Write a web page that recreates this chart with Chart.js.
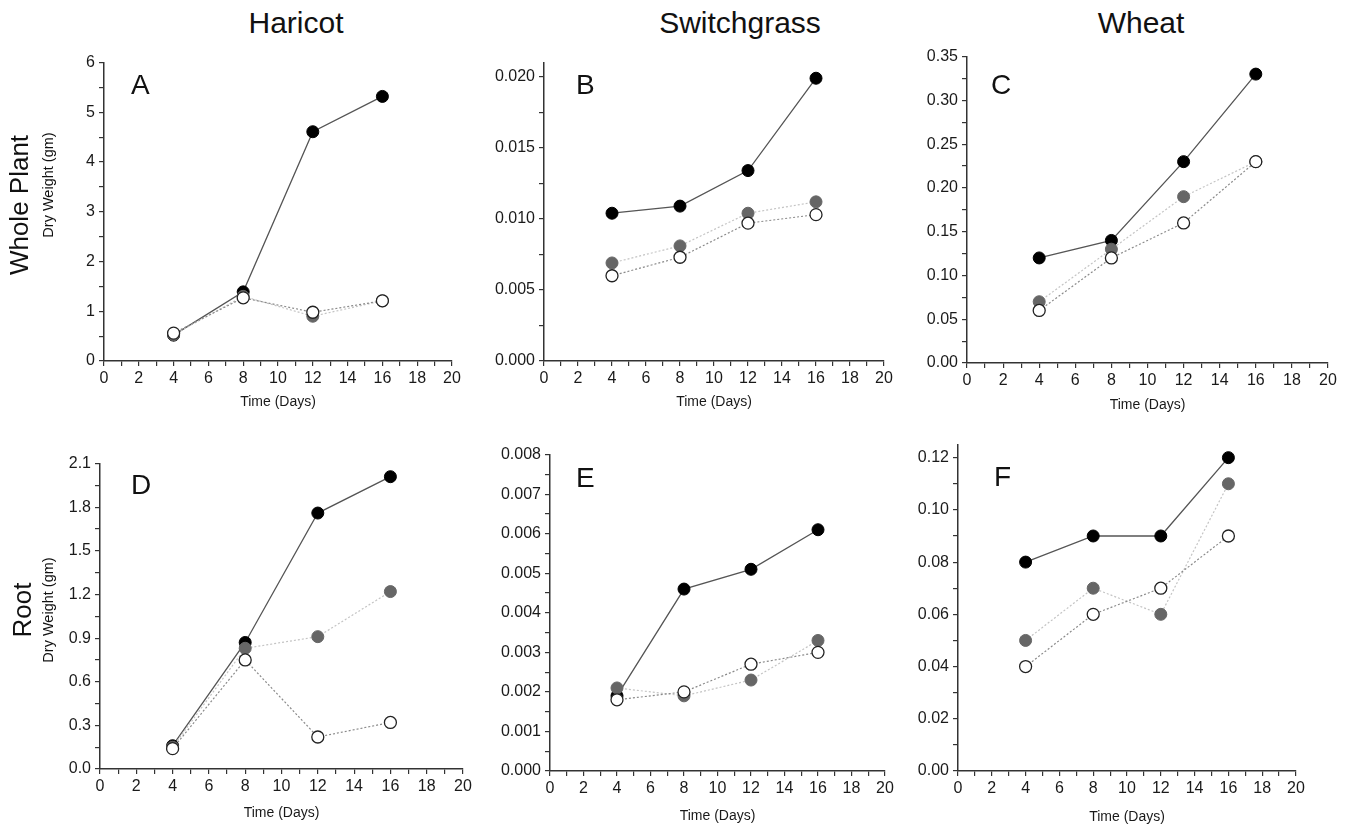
<!DOCTYPE html>
<html>
<head>
<meta charset="utf-8">
<script src="https://cdn.jsdelivr.net/npm/chart.js@4"></script>
<style>
  body { margin: 0; background: #fff; width: 1350px; height: 826px; position: relative; overflow: hidden;
         font-family: 'Liberation Sans', Arial, Helvetica, sans-serif; color: #111; }
  canvas { position: absolute; }
  .txt { position: absolute; white-space: nowrap; line-height: 1; }
  .rot { transform: translate(-50%, -50%) rotate(-90deg); }
</style>
</head>
<body>

<canvas id="pA"></canvas>
<canvas id="pB"></canvas>
<canvas id="pC"></canvas>
<canvas id="pD"></canvas>
<canvas id="pE"></canvas>
<canvas id="pF"></canvas>

<div class="txt" style="left:246px;top:8px;width:100px;text-align:center;font-size:30px;">Haricot</div>
<div class="txt" style="left:640px;top:8px;width:200px;text-align:center;font-size:30px;">Switchgrass</div>
<div class="txt" style="left:1081px;top:8px;width:120px;text-align:center;font-size:30px;">Wheat</div>

<div class="txt rot" style="left:19px;top:205px;font-size:26px;">Whole Plant</div>
<div class="txt rot" style="left:48px;top:185px;font-size:14.5px;">Dry Weight (gm)</div>
<div class="txt rot" style="left:22px;top:610px;font-size:26px;">Root</div>
<div class="txt rot" style="left:48px;top:610px;font-size:14.5px;">Dry Weight (gm)</div>

<div class="txt" style="left:131px;top:71px;font-size:28px;">A</div>
<div class="txt" style="left:576px;top:71px;font-size:28px;">B</div>
<div class="txt" style="left:991px;top:71px;font-size:28px;">C</div>
<div class="txt" style="left:131px;top:471px;font-size:28px;">D</div>
<div class="txt" style="left:576px;top:464px;font-size:28px;">E</div>
<div class="txt" style="left:994px;top:463px;font-size:28px;">F</div>

<script>
// sampling days
const days = [4, 8, 12, 16];

// whole plant dry weight (gm): filled black, filled grey, open circles
const haricotWholeBlack = [0.52, 1.39, 4.61, 5.32];
const haricotWholeGrey  = [0.53, 1.30, 0.90, 1.21];
const haricotWholeOpen  = [0.56, 1.27, 0.98, 1.21];

const switchWholeBlack = [0.0104, 0.0109, 0.0134, 0.0199];
const switchWholeGrey  = [0.0069, 0.0081, 0.0104, 0.0112];
const switchWholeOpen  = [0.0060, 0.0073, 0.0097, 0.0103];

const wheatWholeBlack = [0.12, 0.14, 0.23, 0.33];
const wheatWholeGrey  = [0.07, 0.13, 0.19, 0.23];
const wheatWholeOpen  = [0.06, 0.12, 0.16, 0.23];

// root dry weight (gm)
const haricotRootBlack = [0.16, 0.87, 1.76, 2.01];
const haricotRootGrey  = [0.15, 0.83, 0.91, 1.22];
const haricotRootOpen  = [0.14, 0.75, 0.22, 0.32];

const switchRootBlack = [0.0019, 0.0046, 0.0051, 0.0061];
const switchRootGrey  = [0.0021, 0.0019, 0.0023, 0.0033];
const switchRootOpen  = [0.0018, 0.0020, 0.0027, 0.0030];

const wheatRootBlack = [0.08, 0.09, 0.09, 0.12];
const wheatRootGrey  = [0.05, 0.07, 0.06, 0.11];
const wheatRootOpen  = [0.04, 0.06, 0.07, 0.09];

// x axis ticks
const xMin = 0, xMax = 20, xMinor = 1, xMajor = 2;

const PAD_L = 80, PAD_T = 12, PAD_R = 18, PAD_B = 60;
const FONT = "'Liberation Sans', Arial, Helvetica, sans-serif";

// panel frames: plot area in page pixels
const panels = [
    { id: 'pA', black: haricotWholeBlack, grey: haricotWholeGrey, open: haricotWholeOpen,
      yMax: 6, minor: 0.5, major: 1, dec: 0, box: [104, 61, 452, 361], gap: 41 },
    { id: 'pB', black: switchWholeBlack, grey: switchWholeGrey, open: switchWholeOpen,
      yMax: 0.021, minor: 0.0025, major: 0.005, dec: 3, box: [544, 61, 884, 361], gap: 41 },
    { id: 'pC', black: wheatWholeBlack, grey: wheatWholeGrey, open: wheatWholeOpen,
      yMax: 0.35, minor: 0.025, major: 0.05, dec: 2, box: [967, 55, 1328, 363], gap: 42 },
    { id: 'pD', black: haricotRootBlack, grey: haricotRootGrey, open: haricotRootOpen,
      yMax: 2.1, minor: 0.15, major: 0.3, dec: 1, box: [100, 462, 463, 769], gap: 44 },
    { id: 'pE', black: switchRootBlack, grey: switchRootGrey, open: switchRootOpen,
      yMax: 0.008, minor: 0.0005, major: 0.001, dec: 3, box: [550, 453, 885, 771], gap: 45 },
    { id: 'pF', black: wheatRootBlack, grey: wheatRootGrey, open: wheatRootOpen,
      yMax: 0.125, minor: 0.01, major: 0.02, dec: 2, box: [958, 443, 1296, 771], gap: 46 }
];

function pts(arr) {
    return days.map((d, i) => ({ x: d, y: arr[i] }));
}

function isMajor(v, step) {
    const k = v / step;
    return Math.abs(k - Math.round(k)) < 1e-6;
}

panels.forEach(p => {
    const [l, t, r, b] = p.box;
    const cv = document.getElementById(p.id);
    cv.width = r - l + PAD_L + PAD_R;
    cv.height = b - t + PAD_T + PAD_B;
    cv.style.left = (l - PAD_L) + 'px';
    cv.style.top = (t - PAD_T) + 'px';

    const titleLH = 16.8;

    new Chart(cv.getContext('2d'), {
        type: 'line',
        data: {
            // first dataset is drawn on top
            datasets: [
                {
                    data: pts(p.open),
                    borderColor: '#8a8a8a', borderWidth: 1.2, borderDash: [2, 2],
                    pointBackgroundColor: '#fff', pointBorderColor: '#222',
                    pointBorderWidth: 1.3, pointRadius: 6
                },
                {
                    data: pts(p.grey),
                    borderColor: '#c4c4c4', borderWidth: 1.2, borderDash: [2, 2],
                    pointBackgroundColor: '#666', pointBorderColor: '#666',
                    pointBorderWidth: 1, pointRadius: 6
                },
                {
                    data: pts(p.black),
                    borderColor: '#555', borderWidth: 1.3,
                    pointBackgroundColor: '#000', pointBorderColor: '#000',
                    pointBorderWidth: 1, pointRadius: 6
                }
            ]
        },
        options: {
            responsive: false,
            animation: false,
            devicePixelRatio: 1,
            layout: { padding: { top: PAD_T, right: PAD_R, left: 0, bottom: 0 } },
            elements: { line: { tension: 0, fill: false } },
            plugins: {
                legend: { display: false },
                tooltip: { enabled: false }
            },
            scales: {
                x: {
                    type: 'linear',
                    min: xMin, max: xMax,
                    afterFit: s => { s.height = PAD_B; },
                    border: { display: true, color: '#333', width: 1.5 },
                    grid: { drawOnChartArea: false, drawTicks: true, tickLength: 5, color: '#333', lineWidth: 1.2 },
                    ticks: {
                        stepSize: xMinor, autoSkip: false, maxRotation: 0, padding: 3,
                        color: '#1a1a1a', font: { family: FONT, size: 16 },
                        callback: v => isMajor(v, xMajor) ? String(v) : ''
                    },
                    title: {
                        display: true, text: 'Time (Days)', color: '#1a1a1a',
                        font: { family: FONT, size: 14, lineHeight: 1.2 },
                        padding: { top: 0, bottom: PAD_B - p.gap - titleLH / 2 }
                    }
                },
                y: {
                    type: 'linear',
                    min: 0, max: p.yMax,
                    afterFit: s => { s.width = PAD_L; },
                    border: { display: true, color: '#333', width: 1.5 },
                    grid: { drawOnChartArea: false, drawTicks: true, tickLength: 5, color: '#333', lineWidth: 1.2 },
                    ticks: {
                        stepSize: p.minor, autoSkip: false, includeBounds: false, padding: 4,
                        color: '#1a1a1a', font: { family: FONT, size: 16 },
                        callback: v => isMajor(v, p.major) ? v.toFixed(p.dec) : ''
                    }
                }
            }
        }
    });
});
</script>
</body>
</html>
